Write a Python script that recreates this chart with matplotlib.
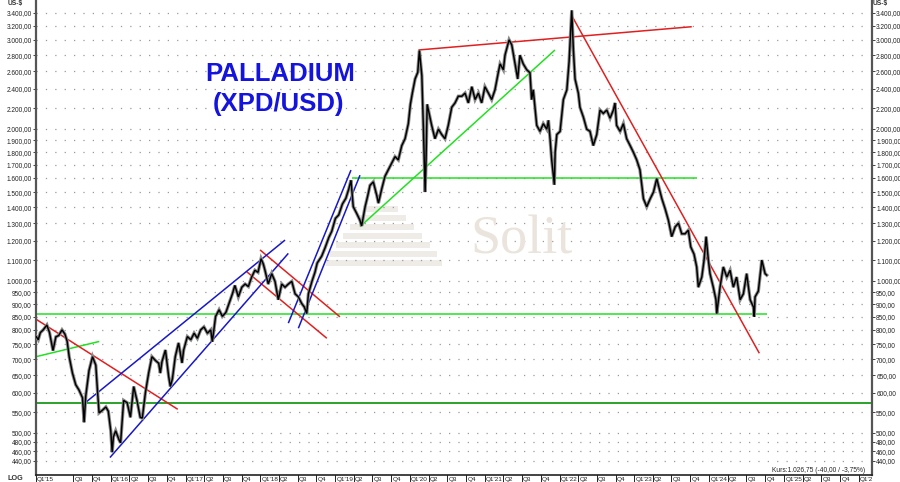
import matplotlib
matplotlib.use("Agg")
import matplotlib.pyplot as plt
import matplotlib.transforms as mtransforms
from matplotlib.patches import Rectangle
from matplotlib.ticker import FixedLocator, FuncFormatter, NullLocator
import pandas as pd

plt.rcParams['font.family'] = ['Liberation Sans', 'DejaVu Sans']

# ---------------- data ----------------
dates = [
    "2015-01-02", "2015-01-12", "2015-01-22", "2015-02-05", "2015-02-23", "2015-03-08", "2015-03-25",
    "2015-04-08", "2015-04-22", "2015-05-08", "2015-05-22", "2015-06-02", "2015-06-12", "2015-06-28",
    "2015-07-14", "2015-07-30", "2015-08-16", "2015-08-24", "2015-09-01", "2015-09-17", "2015-10-04",
    "2015-10-20", "2015-10-28", "2015-11-05", "2015-11-22", "2015-12-08", "2015-12-20",
    "2016-01-01", "2016-01-08", "2016-01-14", "2016-01-25", "2016-02-10", "2016-02-18", "2016-03-04",
    "2016-03-21", "2016-04-06", "2016-04-22", "2016-05-08", "2016-05-24", "2016-06-03", "2016-06-18",
    "2016-07-04", "2016-07-20", "2016-08-06", "2016-08-22", "2016-08-30", "2016-09-07", "2016-09-24",
    "2016-10-10", "2016-10-18", "2016-10-28", "2016-11-11", "2016-11-27", "2016-12-14", "2016-12-22",
    "2017-01-09", "2017-01-26", "2017-02-11", "2017-02-27", "2017-03-15", "2017-03-31", "2017-04-17",
    "2017-05-03", "2017-05-11", "2017-05-27", "2017-06-13", "2017-06-29", "2017-07-16", "2017-08-01",
    "2017-08-17", "2017-08-29", "2017-09-15", "2017-10-02", "2017-10-18", "2017-11-03", "2017-11-19",
    "2017-12-05", "2017-12-20",
    "2018-01-04", "2018-01-15", "2018-01-23", "2018-02-08", "2018-02-25", "2018-03-13", "2018-03-29",
    "2018-04-15", "2018-05-01", "2018-05-17", "2018-06-03", "2018-06-19", "2018-07-05", "2018-07-21",
    "2018-08-03", "2018-08-15", "2018-08-23", "2018-09-10", "2018-09-24", "2018-10-05", "2018-10-27",
    "2018-11-12", "2018-12-01", "2018-12-15",
    "2019-01-02", "2019-01-18", "2019-02-05", "2019-02-22", "2019-03-08", "2019-03-19", "2019-03-30",
    "2019-04-16", "2019-05-02", "2019-05-10", "2019-05-27", "2019-06-08", "2019-06-20", "2019-07-06",
    "2019-07-23", "2019-07-31", "2019-08-16", "2019-09-01", "2019-09-17", "2019-10-04", "2019-10-20",
    "2019-11-05", "2019-11-22", "2019-12-08", "2019-12-24",
    "2020-01-03", "2020-01-13", "2020-01-26", "2020-02-08", "2020-02-16", "2020-02-28", "2020-03-07",
    "2020-03-15", "2020-03-19", "2020-03-25", "2020-03-31", "2020-04-16", "2020-05-02", "2020-05-19",
    "2020-06-04", "2020-06-20", "2020-07-06", "2020-07-23", "2020-08-08", "2020-08-24", "2020-09-10",
    "2020-09-26", "2020-10-12", "2020-10-29", "2020-11-14", "2020-11-30", "2020-12-16",
    "2021-01-01", "2021-01-18", "2021-02-03", "2021-02-19", "2021-03-07", "2021-03-16", "2021-04-01",
    "2021-04-09", "2021-04-29", "2021-05-12", "2021-05-28", "2021-06-10", "2021-06-21", "2021-07-07",
    "2021-07-24", "2021-08-09", "2021-08-17", "2021-08-25", "2021-09-11", "2021-09-27", "2021-10-13",
    "2021-10-30", "2021-11-07", "2021-11-15", "2021-11-23", "2021-12-06", "2021-12-10", "2021-12-18",
    "2022-01-03", "2022-01-19", "2022-02-05", "2022-02-16", "2022-03-01", "2022-03-09", "2022-03-17",
    "2022-04-02", "2022-04-10", "2022-04-27", "2022-05-13", "2022-05-29", "2022-06-14", "2022-07-01",
    "2022-07-17", "2022-08-02", "2022-08-19", "2022-09-04", "2022-09-20", "2022-09-28", "2022-10-06",
    "2022-10-23", "2022-11-08", "2022-11-24", "2022-12-11", "2022-12-27",
    "2023-01-12", "2023-01-28", "2023-02-14", "2023-03-02", "2023-03-19", "2023-04-04", "2023-04-20",
    "2023-04-28", "2023-05-15", "2023-05-31", "2023-06-16", "2023-07-02", "2023-07-19", "2023-08-04",
    "2023-08-20", "2023-09-05", "2023-09-21", "2023-10-03", "2023-10-19", "2023-11-01", "2023-11-09",
    "2023-11-26", "2023-12-07", "2023-12-17", "2023-12-28",
    "2024-01-05", "2024-01-21", "2024-02-03", "2024-02-07", "2024-02-23", "2024-03-10", "2024-03-27",
    "2024-04-12", "2024-04-28", "2024-05-14", "2024-05-31", "2024-06-16", "2024-07-02", "2024-07-19",
    "2024-08-04", "2024-08-08", "2024-08-12", "2024-08-28", "2024-09-14", "2024-09-30", "2024-10-08",
]
prices = [
    776, 765, 790, 800, 818, 790, 728,
    775, 780, 800, 785, 760, 708, 657,
    623, 608, 587, 525, 592, 665, 708,
    681, 608, 548, 555, 563, 552,
    505, 458, 491, 505, 485, 478, 580,
    574, 537, 618, 580, 537, 535, 600,
    657, 708, 696, 687, 657, 692, 730,
    646, 618, 640, 708, 754, 688, 730,
    776, 765, 788, 770, 800, 811, 788,
    800, 758, 851, 877, 851, 866, 903,
    943, 980, 930, 972, 986, 975, 1018,
    1050, 1040,
    1107, 1080, 1050, 986, 1034, 998, 918,
    986, 972, 986, 998, 943, 930, 903,
    888, 862, 943, 1000, 1040, 1085, 1120,
    1162, 1220, 1254,
    1330, 1351, 1420, 1458, 1520, 1583, 1403,
    1360, 1318, 1285, 1403, 1470, 1547, 1571,
    1476, 1426, 1521, 1612, 1660, 1711, 1763,
    1737, 1854, 1913, 2049,
    2238, 2360, 2512, 2589, 2860, 2550, 1978,
    1500, 1700, 2238, 2180, 2033, 1913, 1998,
    1950, 1913, 2033, 2208, 2252, 2322, 2322,
    2355, 2252, 2425, 2287, 2355, 2252,
    2425, 2355, 2287, 2390, 2584, 2691, 2620,
    2800, 3003, 2935, 2691, 2512, 2800, 2691,
    2620, 2584, 2287, 2390, 2033, 1978, 2049,
    1998, 2080, 1913, 1737, 1551, 1800, 1950,
    1978, 2287, 2390, 2720, 3435, 2866, 2512,
    2355, 2208, 2109, 1998, 1978, 1854, 1950,
    2180, 2147, 2180, 2100, 2180, 2252, 2033,
    1978, 2049, 1913, 1854, 1798,
    1737, 1660, 1455, 1403, 1455, 1500, 1595,
    1547, 1455, 1389, 1318, 1224, 1280, 1301,
    1240, 1240, 1260, 1168, 1130, 1066, 972,
    1018, 1100, 1224, 1100,
    1034, 972, 918, 862, 972, 1066, 1018,
    1050, 972, 1018, 918, 943, 1034, 918,
    888, 850, 930, 955, 1100, 1034, 1027,
]

# trend lines: start date, start price, end date, end price
green_lines = [("2015-01-01", 708, "2015-11-06", 759),
               ("2019-05-02", 1281, "2021-12-09", 2867),
               ("2019-03-24", 1600, "2023-11-03", 1600),
               ("2015-01-01", 860, "2024-10-10", 860)]
support_line = ("2015-01-01", 572, "2026-03-06", 572)
red_lines = [("2015-01-01", 840, "2016-11-23", 557),
             ("2017-12-30", 1152, "2019-01-24", 849),
             ("2017-10-26", 1043, "2018-11-21", 770),
             ("2020-02-11", 2867, "2023-10-08", 3188),
             ("2022-03-04", 3337, "2024-09-02", 719)]
blue_lines = [("2015-08-25", 572, "2018-05-01", 1205),
              ("2015-12-28", 447, "2018-05-17", 1134),
              ("2018-05-17", 825, "2019-03-19", 1658),
              ("2018-07-05", 806, "2019-05-02", 1620)]

y_ticks = [440, 460, 480, 500, 550, 600, 650, 700, 750, 800, 850, 900, 950, 1000,
           1100, 1200, 1300, 1400, 1500, 1600, 1700, 1800, 1900, 2000,
           2200, 2400, 2600, 2800, 3000, 3200, 3400]

title_lines = ["PALLADIUM", "(XPD/USD)"]
kurs_text = "Kurs:1.026,75 (-40,00 / -3,75%)"

# ---------------- figure ----------------
W, H = 900, 482
fig = plt.figure(figsize=(W / 100, H / 100), dpi=100)
ax = fig.add_axes([36 / W, 7 / H, 836 / W, 475 / H])
ax.set_yscale('log')
ax.set_ylim(412.8, 3601)
xmin, xmax = pd.Timestamp("2015-01-01"), pd.Timestamp("2026-03-06")
ax.set_xlim(xmin, xmax)

def fx(x):
    return x / W

def fy(y):
    return 1 - y / H

# watermark (behind everything)
wm_col = "#efebe6"
steps = [(366, 398, 206), (358, 406, 215), (350, 414, 224), (343, 422, 233),
         (336, 430, 242), (330, 437, 251), (326, 442, 260)]
for x0, x1, y0 in steps:
    ax.add_patch(Rectangle((fx(x0), fy(y0 + 6)), (x1 - x0) / W, 6 / H,
                           transform=fig.transFigure, color=wm_col, zorder=0.5, lw=0))
ax.text(fx(470), fy(240), "Solit", transform=fig.transFigure, fontsize=39,
        family=['Liberation Serif', 'DejaVu Serif'], color="#ebe4dd", ha='left', va='center', zorder=0.6)

# grid
ax.yaxis.set_major_locator(FixedLocator(y_ticks))
ax.yaxis.set_minor_locator(NullLocator())

def de_fmt(v, pos=None):
    s = f"{v:,.2f}"
    return s.replace(",", "X").replace(".", ",").replace("X", ".")

ax.yaxis.set_major_formatter(FuncFormatter(de_fmt))
ax.grid(axis='y', which='major', color='#9a9a9a', linestyle=(0, (1, 6.5)), linewidth=0.9, zorder=0.4)
ax.set_axisbelow(True)

ax.tick_params(axis='y', which='major', labelsize=4.7, length=2, width=0.6, colors='#222222',
               labelleft=True, labelright=True, left=True, right=True, pad=1.0)
ax.tick_params(axis='x', which='both', bottom=False, labelbottom=False)

for side in ['left', 'right']:
    ax.spines[side].set_linewidth(1.6)
    ax.spines[side].set_color('#555555')
ax.spines['top'].set_visible(False)
ax.spines['bottom'].set_linewidth(1.2)
ax.spines['bottom'].set_color('#222222')

# trend lines
def draw(lines, color, lw=1.1, z=2):
    for d0, p0, d1, p1 in lines:
        ax.plot([pd.Timestamp(d0), pd.Timestamp(d1)], [p0, p1], color=color, lw=lw, zorder=z,
                solid_capstyle='butt')

draw(green_lines, "#22e022")
draw([support_line], "#1b9a1b", lw=1.3)
draw(red_lines, "#e02020")
draw(blue_lines, "#1818c8")

# price
dts = pd.to_datetime(dates)
ax.plot(dts, prices, color="#8a8a8a", lw=2.4, zorder=3, solid_joinstyle='miter')
ax.plot(dts, prices, color="#000000", lw=1.05, zorder=4, solid_joinstyle='miter')

# title
ax.text(fx(280), fy(74), title_lines[0], transform=fig.transFigure, fontsize=18.5, fontweight='bold',
        color="#1414dc", ha='center', va='center', zorder=5)
ax.text(fx(278), fy(104), title_lines[1], transform=fig.transFigure, fontsize=18.5, fontweight='bold',
        color="#1414dc", ha='center', va='center', zorder=5)

# x axis quarter labels
clip_rect = Rectangle((0, 0), 872 / W, 1, transform=fig.transFigure)
quarters = pd.date_range("2015-01-01", "2026-01-01", freq="QS")
xtr = ax.get_xaxis_transform()
lbl_tr = mtransforms.offset_copy(xtr, fig=fig, x=1.2, y=0, units='dots')
for q in quarters:
    if q == pd.Timestamp("2015-04-01"):
        continue
    ax.plot([q, q], [0, -7 / 475], transform=xtr, color='#222222', lw=0.7, clip_on=False)
    qn = (q.month - 1) // 3 + 1
    lab = f"Q1'{q.year % 100:02d}" if qn == 1 else f"Q{qn}"
    t = ax.text(q, -1.5 / 475, lab, transform=lbl_tr, ha='left', va='top', fontsize=4.6,
                color='#222222', clip_on=False)
    t.set_clip_path(clip_rect)
    t.set_clip_on(True)

fig.text(fx(15), fy(479), "LOG", fontsize=5.2, fontweight='bold', color='#333333', ha='center', va='center')
fig.text(fx(15), fy(4), "US-$", fontsize=4.8, fontweight='bold', color='#333333', ha='center', va='center')
fig.text(fx(880), fy(4), "US-$", fontsize=4.8, fontweight='bold', color='#333333', ha='center', va='center')
fig.text(fx(865), fy(471), kurs_text, fontsize=4.8, color='#222222', ha='right', va='center')

fig.savefig("out.png", dpi=100)
